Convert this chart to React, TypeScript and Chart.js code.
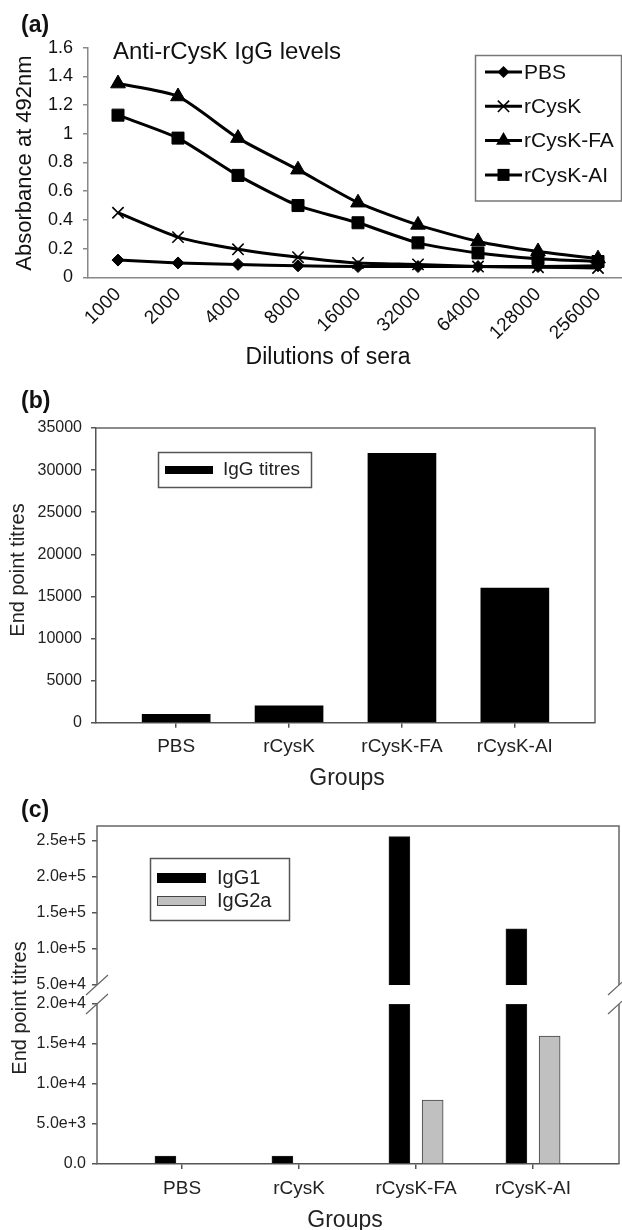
import React, { useEffect, useRef } from 'react';
import { Chart, registerables } from 'chart.js';

Chart.register(...registerables);

const FONT = "'Liberation Sans', Arial, sans-serif";

// ---------- Panel (a) ----------
const dilutionLabels = ['1000', '2000', '4000', '8000', '16000', '32000', '64000', '128000', '256000'];
const pbsAbsorbance = [0.12, 0.1, 0.09, 0.08, 0.075, 0.075, 0.075, 0.075, 0.08];
const rCysKAbsorbance = [0.45, 0.28, 0.195, 0.14, 0.1, 0.09, 0.075, 0.07, 0.065];
const rCysKFAAbsorbance = [1.35, 1.26, 0.97, 0.75, 0.52, 0.365, 0.25, 0.18, 0.13];
const rCysKAIAbsorbance = [1.13, 0.97, 0.71, 0.5, 0.38, 0.24, 0.17, 0.13, 0.11];
const absorbanceTicks = [0, 0.2, 0.4, 0.6, 0.8, 1, 1.2, 1.4, 1.6];
const titleA = 'Anti-rCysK IgG levels';

// ---------- Panel (b) ----------
const groupLabels = ['PBS', 'rCysK', 'rCysK-FA', 'rCysK-AI'];
const iggTitres = [1000, 2000, 32000, 16000];
const titreTicksB = [0, 5000, 10000, 15000, 20000, 25000, 30000, 35000];

// ---------- Panel (c) ----------
const igg1Titres = [1000, 1000, 256000, 128000];
const igg2aTitres = [0, 0, 8000, 16000];
const lowerTicksC = [0, 5000, 10000, 15000, 20000];
const upperTicksC = [50000, 100000, 150000, 200000, 250000];
const breakLow = 20000;
const breakHigh = 50000;

function drawMarker(ctx: CanvasRenderingContext2D, style: string, x: number, y: number, r: number) {
  ctx.beginPath();
  if (style === 'rectRot') {
    ctx.moveTo(x, y - r); ctx.lineTo(x + r, y); ctx.lineTo(x, y + r); ctx.lineTo(x - r, y); ctx.closePath(); ctx.fill();
  } else if (style === 'triangle') {
    ctx.moveTo(x, y - r); ctx.lineTo(x + 0.866 * r, y + 0.5 * r); ctx.lineTo(x - 0.866 * r, y + 0.5 * r); ctx.closePath(); ctx.fill();
  } else if (style === 'rect') {
    const s = r * Math.SQRT1_2; ctx.rect(x - s, y - s, 2 * s, 2 * s); ctx.fill();
  } else if (style === 'crossRot') {
    const d = r * Math.SQRT1_2;
    ctx.moveTo(x - d, y - d); ctx.lineTo(x + d, y + d); ctx.moveTo(x + d, y - d); ctx.lineTo(x - d, y + d); ctx.stroke();
  }
}

function rotatedText(ctx: CanvasRenderingContext2D, text: string, x: number, y: number, font: string) {
  ctx.save();
  ctx.translate(x, y);
  ctx.rotate(-Math.PI / 2);
  ctx.font = font;
  ctx.textAlign = 'center';
  ctx.textBaseline = 'middle';
  ctx.fillText(text, 0, 0);
  ctx.restore();
}

const panelADecor = {
  id: 'panelADecor',
  afterDraw(chart: any) {
    const ctx: CanvasRenderingContext2D = chart.ctx;
    ctx.save();
    ctx.fillStyle = '#111';
    ctx.textBaseline = 'middle';
    ctx.textAlign = 'left';
    ctx.font = `bold 23px ${FONT}`;
    ctx.fillText('(a)', 21, 26);
    ctx.font = `24px ${FONT}`;
    ctx.fillText(titleA, 113, 52);
    ctx.textAlign = 'center';
    ctx.font = `23px ${FONT}`;
    ctx.fillText('Dilutions of sera', 328, 358);
    rotatedText(ctx, 'Absorbance at 492nm', 25, 163, `22px ${FONT}`);
    // legend
    ctx.strokeStyle = '#777';
    ctx.lineWidth = 1.5;
    ctx.strokeRect(475.5, 55.5, 146, 145.5);
    chart.data.datasets.forEach((ds: any, i: number) => {
      const y = 72 + i * 34.3;
      ctx.strokeStyle = '#000';
      ctx.lineWidth = 3;
      ctx.beginPath(); ctx.moveTo(485, y); ctx.lineTo(522, y); ctx.stroke();
      ctx.fillStyle = '#000';
      ctx.lineWidth = ds.pointBorderWidth || 1;
      drawMarker(ctx, ds.pointStyle, 503.5, y, ds.pointRadius);
      ctx.fillStyle = '#111';
      ctx.font = `21px ${FONT}`;
      ctx.textAlign = 'left';
      ctx.fillText(ds.label, 524, y + 1);
    });
    ctx.restore();
  },
};

const panelBDecor = {
  id: 'panelBDecor',
  afterDraw(chart: any) {
    const ctx: CanvasRenderingContext2D = chart.ctx;
    const { left, right, top, bottom } = chart.chartArea;
    ctx.save();
    ctx.strokeStyle = '#666';
    ctx.lineWidth = 1.5;
    ctx.beginPath();
    ctx.moveTo(left, top); ctx.lineTo(right, top); ctx.lineTo(right, bottom);
    ctx.stroke();
    ctx.fillStyle = '#111';
    ctx.textBaseline = 'middle';
    ctx.textAlign = 'left';
    ctx.font = `bold 23px ${FONT}`;
    ctx.fillText('(b)', 21, 22);
    ctx.fillStyle = '#222';
    rotatedText(ctx, 'End point titres', 18, 190, `20px ${FONT}`);
    ctx.textAlign = 'center';
    ctx.font = `23px ${FONT}`;
    ctx.fillText('Groups', 347, 399);
    // legend
    ctx.strokeStyle = '#555';
    ctx.lineWidth = 1.5;
    ctx.strokeRect(158.5, 72.5, 153, 35);
    ctx.fillStyle = '#000';
    ctx.fillRect(165, 86, 48, 8);
    ctx.fillStyle = '#222';
    ctx.textAlign = 'left';
    ctx.font = `19px ${FONT}`;
    ctx.fillText(chart.data.datasets[0].label, 223, 90);
    ctx.restore();
  },
};

const panelCDecor = {
  id: 'panelCDecor',
  afterDraw(chart: any) {
    const ctx: CanvasRenderingContext2D = chart.ctx;
    const { left, right, top, bottom } = chart.chartArea;
    const yTop = chart.scales.yTop;
    const yBot = chart.scales.yBot;
    const yHigh = yTop.getPixelForValue(breakHigh);
    const yLow = yBot.getPixelForValue(breakLow);
    ctx.save();
    ctx.strokeStyle = '#666';
    ctx.lineWidth = 1.5;
    ctx.beginPath();
    ctx.moveTo(left, yHigh); ctx.lineTo(left, top); ctx.lineTo(right, top); ctx.lineTo(right, yHigh);
    ctx.moveTo(left, yLow); ctx.lineTo(left, bottom);
    ctx.moveTo(right, yLow); ctx.lineTo(right, bottom);
    ctx.stroke();
    // break marks
    ctx.lineWidth = 1.2;
    ctx.beginPath();
    [left, right].forEach((x) => {
      [yHigh, yLow].forEach((y) => {
        ctx.moveTo(x - 11, y + 10);
        ctx.lineTo(x + 11, y - 10);
      });
    });
    ctx.stroke();

    ctx.fillStyle = '#111';
    ctx.textBaseline = 'middle';
    ctx.textAlign = 'left';
    ctx.font = `bold 23px ${FONT}`;
    ctx.fillText('(c)', 21, 21);
    ctx.fillStyle = '#222';
    rotatedText(ctx, 'End point titres', 20, 218, `20px ${FONT}`);
    ctx.textAlign = 'center';
    ctx.font = `23px ${FONT}`;
    ctx.fillText('Groups', 345, 431);
    // legend
    ctx.strokeStyle = '#555';
    ctx.lineWidth = 1.5;
    ctx.strokeRect(150.5, 68.5, 139, 62);
    ctx.fillStyle = '#000';
    ctx.fillRect(157, 83, 49, 10);
    ctx.fillStyle = '#c0c0c0';
    ctx.fillRect(157, 106, 49, 10);
    ctx.lineWidth = 1;
    ctx.strokeStyle = '#444';
    ctx.strokeRect(157.5, 106.5, 48, 9);
    ctx.fillStyle = '#222';
    ctx.textAlign = 'left';
    ctx.font = `20px ${FONT}`;
    ctx.fillText('IgG1', 217, 88);
    ctx.fillText('IgG2a', 217, 111);
    ctx.restore();
  },
};

function fmtExp(v: number) {
  return v === 0 ? '0.0' : v.toExponential(1);
}

export default function App() {
  const aRef = useRef<HTMLCanvasElement>(null);
  const bRef = useRef<HTMLCanvasElement>(null);
  const cRef = useRef<HTMLCanvasElement>(null);

  useEffect(() => {
    const lineCommon = {
      borderColor: '#000',
      backgroundColor: '#000',
      pointBackgroundColor: '#000',
      pointBorderColor: '#000',
      borderWidth: 3,
      tension: 0.2,
    };
    const chartA = new Chart(aRef.current as HTMLCanvasElement, {
      type: 'line',
      data: {
        labels: dilutionLabels,
        datasets: [
          { ...lineCommon, label: 'PBS', data: pbsAbsorbance, pointStyle: 'rectRot', pointRadius: 6, pointBorderWidth: 1 },
          { ...lineCommon, label: 'rCysK', data: rCysKAbsorbance, pointStyle: 'crossRot', pointRadius: 8, pointBorderWidth: 1.6 },
          { ...lineCommon, label: 'rCysK-FA', data: rCysKFAAbsorbance, pointStyle: 'triangle', pointRadius: 8.5, pointBorderWidth: 1 },
          { ...lineCommon, label: 'rCysK-AI', data: rCysKAIAbsorbance, pointStyle: 'rect', pointRadius: 8.5, pointBorderWidth: 1 },
        ] as any,
      },
      options: {
        animation: false,
        responsive: false,
        devicePixelRatio: 1,
        layout: { padding: { left: 0, top: 47.7, right: 12, bottom: 0 } },
        plugins: { legend: { display: false }, tooltip: { enabled: false } },
        scales: {
          x: {
            type: 'category',
            offset: true,
            grid: { display: false, drawTicks: false },
            border: { color: '#888', width: 1.5 },
            ticks: { autoSkip: false, minRotation: 45, maxRotation: 45, padding: 6, color: '#111', font: { family: FONT, size: 19 } },
            afterFit: (s: any) => { s.height = 380 - 277.3; },
          },
          y: {
            min: 0,
            max: 1.6,
            afterBuildTicks: (s: any) => { s.ticks = absorbanceTicks.map((v) => ({ value: v })); },
            ticks: { padding: 10, color: '#111', font: { family: FONT, size: 18 }, callback: (v: any) => String(v) },
            grid: { drawOnChartArea: false, tickLength: 5, color: '#888', lineWidth: 1.5 },
            border: { color: '#888', width: 1.5 },
            afterFit: (s: any) => { s.width = 88; },
          },
        } as any,
      },
      plugins: [panelADecor],
    });

    const chartB = new Chart(bRef.current as HTMLCanvasElement, {
      type: 'bar',
      data: {
        datasets: [
          {
            label: 'IgG titres',
            data: groupLabels.map((_, i) => ({ x: i + 1, y: iggTitres[i] })),
            backgroundColor: '#000',
            borderColor: '#000',
            borderWidth: 0,
            barThickness: 68,
          },
        ] as any,
      },
      options: {
        animation: false,
        responsive: false,
        devicePixelRatio: 1,
        layout: { padding: { left: 0, top: 48, right: 27, bottom: 0 } },
        plugins: { legend: { display: false }, tooltip: { enabled: false } },
        scales: {
          x: {
            type: 'linear',
            offset: false,
            min: 0.29,
            max: 4.71,
            afterBuildTicks: (s: any) => { s.ticks = groupLabels.map((_, i) => ({ value: i + 1 })); },
            ticks: { padding: 8, color: '#222', font: { family: FONT, size: 19 }, callback: (v: any) => groupLabels[Math.round(v) - 1] },
            grid: { offset: false, drawOnChartArea: false, tickLength: 5, color: '#555', lineWidth: 1.5 },
            border: { color: '#555', width: 1.5 },
            afterFit: (s: any) => { s.height = 410 - 342.7; },
          },
          y: {
            min: 0,
            max: 35000,
            afterBuildTicks: (s: any) => { s.ticks = titreTicksB.map((v) => ({ value: v })); },
            ticks: { padding: 9, color: '#222', font: { family: FONT, size: 16 }, callback: (v: any) => String(v) },
            grid: { drawOnChartArea: false, tickLength: 5, color: '#555', lineWidth: 1.5 },
            border: { color: '#555', width: 1.5 },
            afterFit: (s: any) => { s.width = 96; },
          },
        } as any,
      },
      plugins: [panelBDecor],
    });

    const offsetC = 0.142;
    const barC = { barThickness: 21, grouped: false };
    const chartC = new Chart(cRef.current as HTMLCanvasElement, {
      type: 'bar',
      data: {
        datasets: [
          {
            ...barC,
            label: 'IgG1',
            yAxisID: 'yBot',
            data: igg1Titres.map((v, i) => ({ x: i + 1 - offsetC, y: Math.min(v, breakLow) })),
            backgroundColor: '#000', borderColor: '#222', borderWidth: 1,
          },
          {
            ...barC,
            label: 'IgG1',
            yAxisID: 'yTop',
            data: igg1Titres.map((v, i) => ({ x: i + 1 - offsetC, y: v > breakLow ? [breakHigh, v] : null })),
            backgroundColor: '#000', borderColor: '#222', borderWidth: 1,
          },
          {
            ...barC,
            label: 'IgG2a',
            yAxisID: 'yBot',
            data: igg2aTitres.map((v, i) => ({ x: i + 1 + offsetC, y: Math.min(v, breakLow) })),
            backgroundColor: '#c0c0c0', borderColor: '#444', borderWidth: 1,
          },
          {
            ...barC,
            label: 'IgG2a',
            yAxisID: 'yTop',
            data: igg2aTitres.map((v, i) => ({ x: i + 1 + offsetC, y: v > breakLow ? [breakHigh, v] : null })),
            backgroundColor: '#c0c0c0', borderColor: '#444', borderWidth: 1,
          },
        ] as any,
      },
      options: {
        animation: false,
        responsive: false,
        devicePixelRatio: 1,
        layout: { padding: { left: 0, top: 36, right: 3, bottom: 0 } },
        plugins: { legend: { display: false }, tooltip: { enabled: false } },
        scales: {
          x: {
            type: 'linear',
            offset: false,
            min: 0.273,
            max: 4.735,
            afterBuildTicks: (s: any) => { s.ticks = groupLabels.map((_, i) => ({ value: i + 1 })); },
            ticks: { padding: 8, color: '#222', font: { family: FONT, size: 19 }, callback: (v: any) => groupLabels[Math.round(v) - 1] },
            grid: { offset: false, drawOnChartArea: false, tickLength: 5, color: '#555', lineWidth: 1.5 },
            border: { color: '#555', width: 1.5 },
            afterFit: (s: any) => { s.height = 440 - 374; },
          },
          yBot: {
            type: 'linear',
            position: 'left',
            stack: 'titres',
            stackWeight: 160,
            weight: 0,
            min: 0,
            max: breakLow,
            afterBuildTicks: (s: any) => { s.ticks = lowerTicksC.map((v) => ({ value: v })); },
            ticks: { padding: 6, color: '#222', font: { family: FONT, size: 16 }, callback: (v: any) => fmtExp(v) },
            grid: { drawOnChartArea: false, tickLength: 5, color: '#555', lineWidth: 1.5 },
            border: { display: false },
            afterFit: (s: any) => { s.width = 97; },
          },
          yTop: {
            type: 'linear',
            position: 'left',
            stack: 'titres',
            stackWeight: 178,
            weight: 1,
            min: 23600,
            max: 270800,
            afterBuildTicks: (s: any) => { s.ticks = upperTicksC.map((v) => ({ value: v })); },
            ticks: { padding: 6, color: '#222', font: { family: FONT, size: 16 }, callback: (v: any) => fmtExp(v) },
            grid: { drawOnChartArea: false, tickLength: 5, color: '#555', lineWidth: 1.5 },
            border: { display: false },
            afterFit: (s: any) => { s.width = 97; },
          },
        } as any,
      },
      plugins: [panelCDecor],
    });

    return () => {
      chartA.destroy();
      chartB.destroy();
      chartC.destroy();
    };
  }, []);

  return (
    <div style={{ position: 'absolute', left: 0, top: 0, width: 622, height: 1230, overflow: 'hidden', background: '#fff' }}>
      <canvas ref={aRef} width={640} height={380} style={{ position: 'absolute', left: 0, top: 0 }} />
      <canvas ref={bRef} width={622} height={410} style={{ position: 'absolute', left: 0, top: 380 }} />
      <canvas ref={cRef} width={622} height={440} style={{ position: 'absolute', left: 0, top: 790 }} />
    </div>
  );
}
